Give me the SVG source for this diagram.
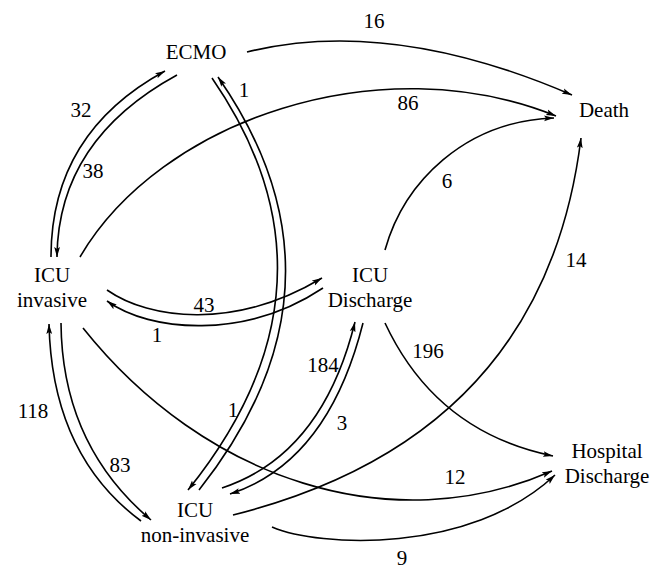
<svg xmlns="http://www.w3.org/2000/svg" width="651" height="570" viewBox="0 0 651 570">
<style>
  .n { font-family: "Liberation Serif", "Times New Roman", serif; font-size: 21px; fill: #000; text-anchor: middle; }
  .l { font-family: "Liberation Serif", "Times New Roman", serif; font-size: 21px; fill: #000; text-anchor: middle; }
  .e { fill: none; stroke: #000; stroke-width: 1.6; marker-end: url(#ah); }
</style>
<defs>
  <marker id="ah" markerWidth="11" markerHeight="7" refX="10" refY="3.5" orient="auto" markerUnits="userSpaceOnUse">
    <path d="M0,0.6 L10,3.5 L0,6.4 L2,3.5 z" fill="#000"/>
  </marker>
</defs>
<rect width="651" height="570" fill="#fff"/>
<g id="connectors">
  <g id="e-ecmo-death"><path class="e" d="M247,52 Q390,16.5 572,95"/><text class="l" x="374" y="28">16</text></g>
  <g id="e-inv-death"><path class="e" d="M80,257 C160,120 380,45 556,116"/><text class="l" x="408" y="110">86</text></g>
  <g id="e-disch-death"><path class="e" d="M385,250 C404,182 465,121 554,118"/><text class="l" x="447" y="188">6</text></g>
  <g id="e-noninv-death"><path class="e" d="M233,515 Q544,437 581,138"/><text class="l" x="576" y="267">14</text></g>
  <g id="e-disch-hosp"><path class="e" d="M385,323 Q436,432 553,456"/><text class="l" x="428" y="358">196</text></g>
  <g id="e-inv-hosp"><path class="e" d="M83,328 C205,481 392,541 552,471"/><text class="l" x="455" y="484">12</text></g>
  <g id="e-noninv-hosp"><path class="e" d="M272,527 C318,547 470,555 555,475"/><text class="l" x="402" y="565">9</text></g>
  <g id="e-inv-ecmo"><path class="e" d="M51,257 Q51,133 165,71"/><text class="l" x="81" y="117">32</text></g>
  <g id="e-ecmo-inv"><path class="e" d="M177,75 Q58,140 57,257"/><text class="l" x="93" y="178">38</text></g>
  <g id="e-noninv-ecmo"><path class="e" d="M199,490 Q362,284 218,77"/><text class="l" x="244" y="97">1</text></g>
  <g id="e-ecmo-noninv"><path class="e" d="M212,78 Q354,284 188,490"/><text class="l" x="233" y="417">1</text></g>
  <g id="e-inv-disch"><path class="e" d="M107,290 C150,320 235,330 322,278"/><text class="l" x="204" y="312">43</text></g>
  <g id="e-disch-inv"><path class="e" d="M323,288 C245,340 150,332 107,301"/><text class="l" x="157" y="342">1</text></g>
  <g id="e-noninv-disch"><path class="e" d="M222,488 Q322,455 355,322"/><text class="l" x="323" y="372">184</text></g>
  <g id="e-disch-noninv"><path class="e" d="M363,323 Q328,462 230,494"/><text class="l" x="342" y="430">3</text></g>
  <g id="e-noninv-inv"><path class="e" d="M141,521 Q52,455 49,324"/><text class="l" x="33" y="418">118</text></g>
  <g id="e-inv-noninv"><path class="e" d="M61,323 Q62,445 151,520"/><text class="l" x="120" y="472">83</text></g>
</g>
<g id="node-ecmo"><text class="n" x="196" y="59">ECMO</text></g>
<g id="node-death"><text class="n" x="604" y="117">Death</text></g>
<g id="node-icu-invasive"><text class="n" x="52" y="282">ICU</text><text class="n" x="52" y="307">invasive</text></g>
<g id="node-icu-discharge"><text class="n" x="370" y="282">ICU</text><text class="n" x="370" y="307">Discharge</text></g>
<g id="node-icu-noninvasive"><text class="n" x="195" y="517">ICU</text><text class="n" x="195" y="542">non-invasive</text></g>
<g id="node-hospital-discharge"><text class="n" x="607" y="458">Hospital</text><text class="n" x="607" y="483">Discharge</text></g>
</svg>
